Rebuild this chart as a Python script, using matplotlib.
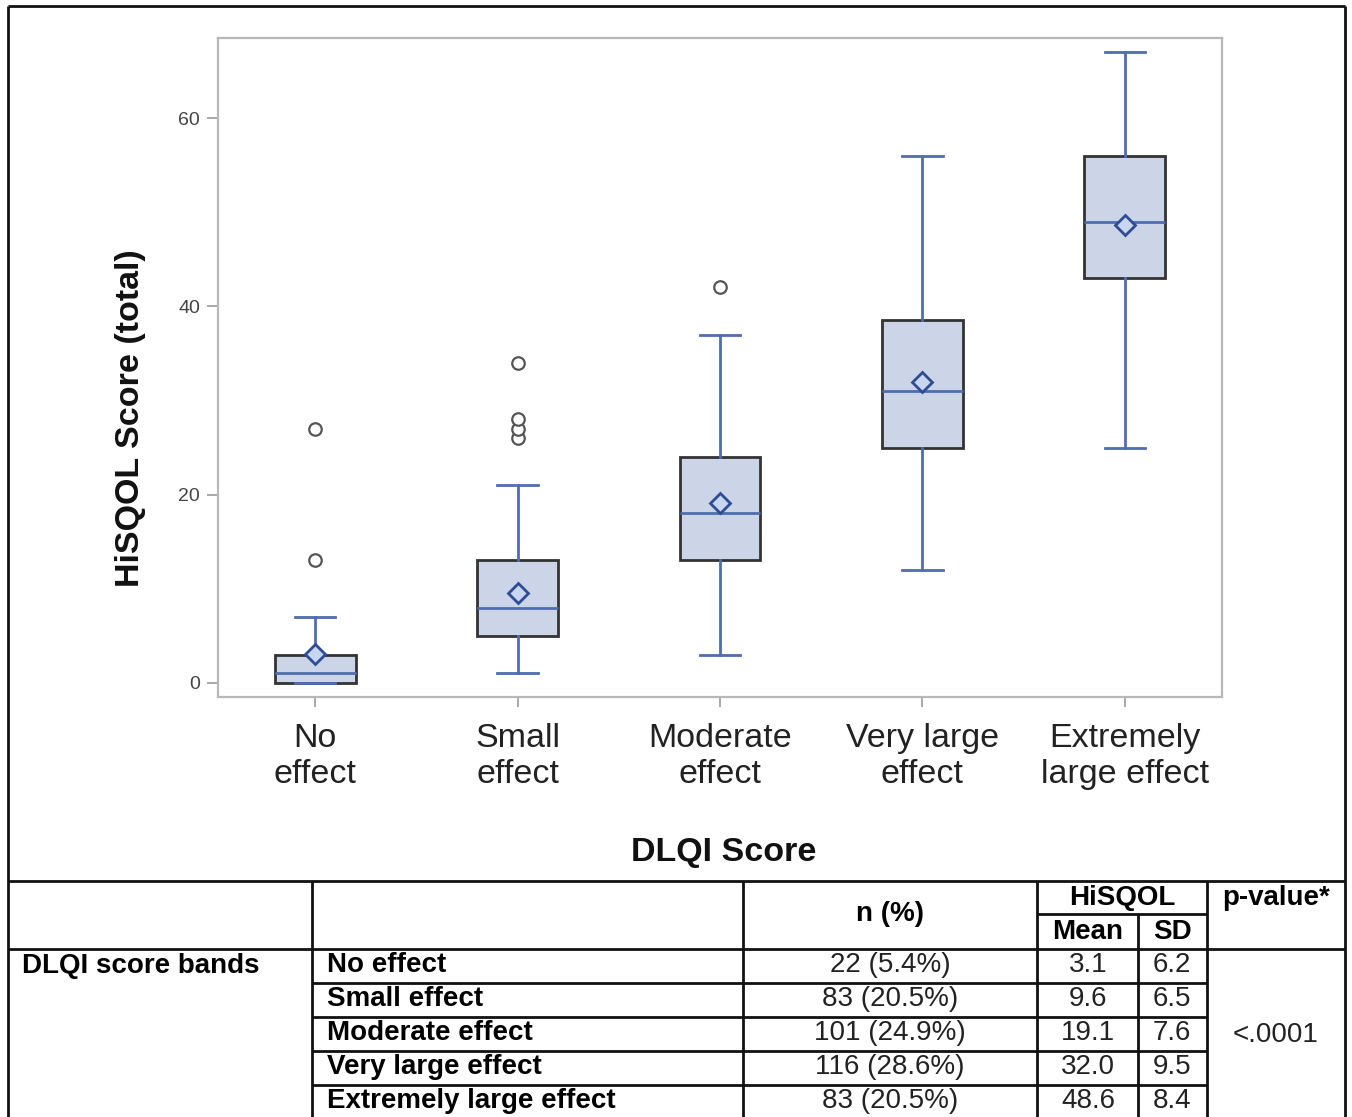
import matplotlib
matplotlib.use("Agg")
import matplotlib.pyplot as plt

plt.rcParams['font.family'] = ['Liberation Sans', 'DejaVu Sans']

# box plot data (HiSQOL total by DLQI band)
categories = ['No\neffect', 'Small\neffect', 'Moderate\neffect', 'Very large\neffect', 'Extremely\nlarge effect']
q1 = [0, 5, 13, 25, 43]
medians = [1, 8, 18, 31, 49]
q3 = [3, 13, 24, 38.5, 56]
whis_lo = [0, 1, 3, 12, 25]
whis_hi = [7, 21, 37, 56, 67]
means = [3.1, 9.6, 19.1, 32.0, 48.6]
outliers = [[13, 27], [26, 27, 28, 34], [42], [], []]
yticks = [0, 20, 40, 60]

# table data
bands = ['No effect', 'Small effect', 'Moderate effect', 'Very large effect', 'Extremely large effect']
n_counts = [22, 83, 101, 116, 83]
n_pct = [5.4, 20.5, 24.9, 28.6, 20.5]
hisqol_mean = [3.1, 9.6, 19.1, 32.0, 48.6]
hisqol_sd = [6.2, 6.5, 7.6, 9.5, 8.4]
p_value = '<.0001'

W, H = 1352, 1117
fig = plt.figure(figsize=(W / 100, H / 100), dpi=100)

# --- box plot ---
ax = fig.add_axes([218 / W, (H - 697) / H, (1222 - 218) / W, (697 - 38) / H])
stats = []
for i in range(len(categories)):
    stats.append(dict(med=medians[i], q1=q1[i], q3=q3[i], whislo=whis_lo[i],
                      whishi=whis_hi[i], mean=means[i], fliers=outliers[i]))

line_blue = '#4f6db0'
ax.bxp(stats, positions=range(len(categories)), widths=0.4, capwidths=0.2,
       patch_artist=True, showmeans=True,
       boxprops=dict(facecolor='#cbd5e7', edgecolor='#333333', linewidth=2),
       whiskerprops=dict(color=line_blue, linewidth=2),
       capprops=dict(color=line_blue, linewidth=2),
       medianprops=dict(color=line_blue, linewidth=2),
       meanprops=dict(marker='D', markersize=10, markerfacecolor='#c9d6ef',
                      markeredgecolor='#2f4d95', markeredgewidth=2),
       flierprops=dict(marker='o', markersize=9, markerfacecolor='white',
                       markeredgecolor='#555555', markeredgewidth=1.6))

ax.set_xlim(-0.48, 4.48)
ax.set_ylim(-1.5, 68.5)
ax.set_yticks(yticks)
ax.set_xticks(range(len(categories)))
ax.set_xticklabels(categories, fontsize=24.5, color='#222222', linespacing=1.2)
ax.tick_params(axis='y', labelsize=14, labelcolor='#444444', color='#999999',
               length=8, width=1.2, pad=5)
ax.tick_params(axis='x', color='#999999', length=7, width=1.2, pad=12)
for s in ax.spines.values():
    s.set_color('#b8b8b8')
    s.set_linewidth(1.6)

fig.text(131 / W, 1 - 418 / H, 'HiSQOL Score (total)', rotation=90, ha='center',
         va='center', fontsize=24.5, fontweight='bold', color='#111111')
fig.text(724 / W, 1 - 853 / H, 'DLQI Score', ha='center', va='center',
         fontsize=24.5, fontweight='bold', color='#111111')

# --- frame and table drawn in pixel space ---
ov = fig.add_axes([0, 0, 1, 1], facecolor='none')
ov.set_xlim(0, W)
ov.set_ylim(H, 0)
ov.axis('off')

lk = dict(color='#111111', linewidth=2, solid_capstyle='butt')
ov.plot([8, 8], [6, H], **lk)
ov.plot([8, 1345], [6, 6], **lk)
ov.plot([1345, 1345], [6, H], **lk)

ov.plot([8, 1345], [881, 881], **lk)
ov.plot([8, 1345], [949, 949], **lk)
ov.plot([1037, 1207], [914, 914], **lk)
for x in [312, 743, 1037, 1207]:
    ov.plot([x, x], [881, H], **lk)
ov.plot([1138, 1138], [914, H], **lk)

row_edges = [949, 983, 1017, 1051, 1085, 1119]
for y in row_edges[1:-1]:
    ov.plot([312, 1207], [y, y], **lk)

fs = 20
ov.text(890, 914, 'n (%)', ha='center', va='center', fontsize=fs, fontweight='bold')
ov.text(1122, 898, 'HiSQOL', ha='center', va='center', fontsize=fs, fontweight='bold')
ov.text(1088, 932, 'Mean', ha='center', va='center', fontsize=fs, fontweight='bold')
ov.text(1172, 932, 'SD', ha='center', va='center', fontsize=fs, fontweight='bold')
ov.text(1276, 898, 'p-value*', ha='center', va='center', fontsize=fs, fontweight='bold')

ov.text(22, 966, 'DLQI score bands', ha='left', va='center', fontsize=fs, fontweight='bold')
for i, band in enumerate(bands):
    yc = (row_edges[i] + row_edges[i + 1]) / 2 - 1
    ov.text(327, yc, band, ha='left', va='center', fontsize=fs, fontweight='bold')
    ov.text(890, yc, f'{n_counts[i]} ({n_pct[i]}%)', ha='center', va='center',
            fontsize=fs, color='#222222')
    ov.text(1088, yc, f'{hisqol_mean[i]:.1f}', ha='center', va='center',
            fontsize=fs, color='#222222')
    ov.text(1172, yc, f'{hisqol_sd[i]:.1f}', ha='center', va='center',
            fontsize=fs, color='#222222')
ov.text(1276, 1035, p_value, ha='center', va='center', fontsize=fs, color='#222222')

fig.savefig('out.png', dpi=100)
